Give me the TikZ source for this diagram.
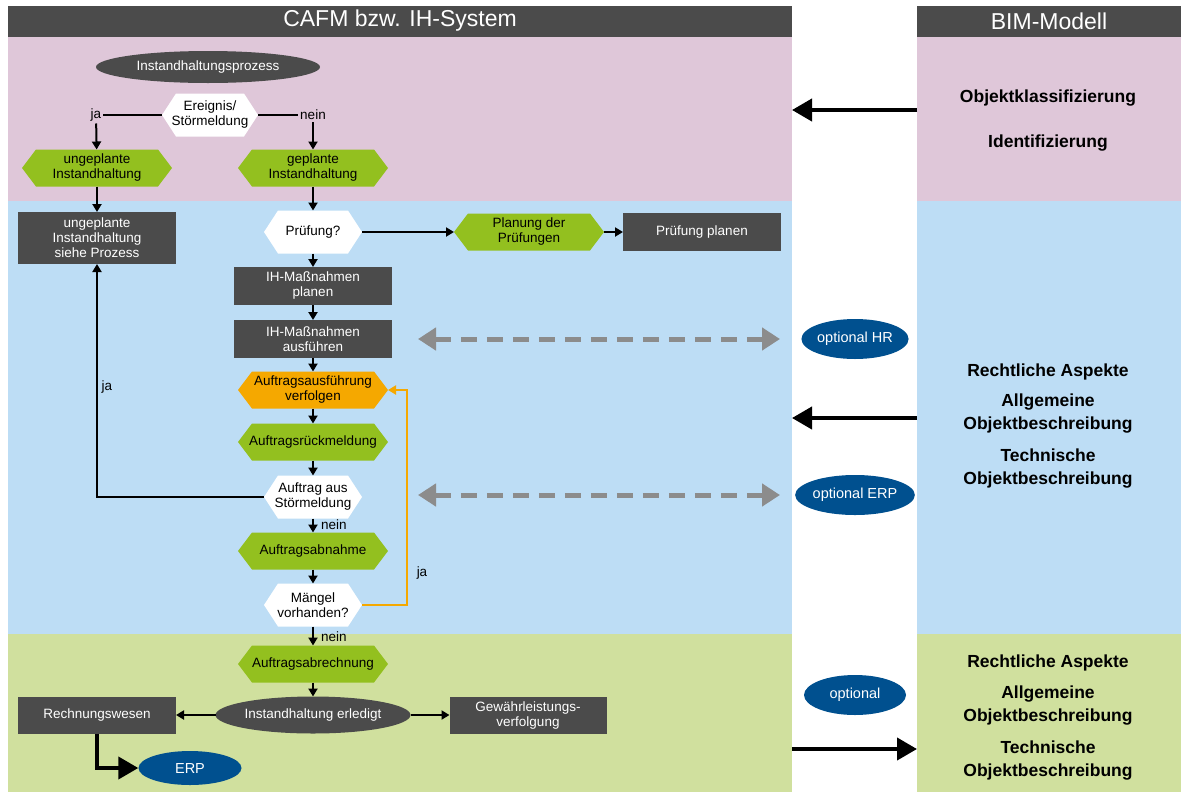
\documentclass[tikz,border=0pt]{standalone}
\usepackage{fontspec}
\setmainfont{Liberation Sans}
\usetikzlibrary{shapes.geometric}
\usetikzlibrary{positioning}
\usetikzlibrary{arrows.meta}
\definecolor{dgray}{HTML}{4B4B4B}
\definecolor{pinkbg}{HTML}{DFC7D9}
\definecolor{bluebg}{HTML}{BDDDF5}
\definecolor{greenbg}{HTML}{D0E09E}
\definecolor{limeg}{HTML}{93C01F}
\definecolor{orangeh}{HTML}{F5A800}
\definecolor{navyb}{HTML}{00508F}
\definecolor{grayarr}{HTML}{8C8C8C}

% hexagon with pointed ends, rectangle anchors
\makeatletter
\newdimen\hextipdim \newdimen\hxa \newdimen\hxb \newdimen\hya \newdimen\hyb
\newdimen\hym \newdimen\hxi \newdimen\hxo
\pgfkeys{/pgf/hex tip/.initial=14pt}
\pgfdeclareshape{hexnode}{
  \inheritsavedanchors[from=rectangle]
  \inheritanchorborder[from=rectangle]
  \inheritanchor[from=rectangle]{center}
  \inheritanchor[from=rectangle]{north}
  \inheritanchor[from=rectangle]{south}
  \inheritanchor[from=rectangle]{east}
  \inheritanchor[from=rectangle]{west}
  \backgroundpath{
    \pgfmathsetlength\hextipdim{\pgfkeysvalueof{/pgf/hex tip}}
    \southwest \hxa=\pgf@x \hya=\pgf@y
    \northeast \hxb=\pgf@x \hyb=\pgf@y
    \hym=.5\hya \advance\hym by .5\hyb
    \hxi=\hxa \advance\hxi by \hextipdim
    \hxo=\hxb \advance\hxo by -\hextipdim
    \pgfpathmoveto{\pgfqpoint{\hxa}{\hym}}
    \pgfpathlineto{\pgfqpoint{\hxi}{\hyb}}
    \pgfpathlineto{\pgfqpoint{\hxo}{\hyb}}
    \pgfpathlineto{\pgfqpoint{\hxb}{\hym}}
    \pgfpathlineto{\pgfqpoint{\hxo}{\hya}}
    \pgfpathlineto{\pgfqpoint{\hxi}{\hya}}
    \pgfpathclose
  }
}
\makeatother

\tikzset{
    hexg/.style = {hexnode, fill=limeg, minimum width=150pt, minimum height=37pt, inner sep=0pt, outer sep=0pt, align=center, font=\fontsize{13.5}{15}\selectfont, text=black},
    hexo/.style = {hexg, fill=orangeh},
    hexw/.style = {hexg, fill=white, minimum width=98pt, minimum height=43pt},
    boxd/.style = {rectangle, fill=dgray, minimum width=158pt, minimum height=38pt, inner sep=0pt, outer sep=0pt, align=center, font=\fontsize{13.5}{15}\selectfont, text=white},
    elld/.style = {ellipse, fill=dgray, inner sep=0pt, outer sep=0pt, align=center, font=\fontsize{13.5}{15}\selectfont, text=white},
    elln/.style = {ellipse, fill=navyb, minimum width=102pt, minimum height=40pt, inner sep=0pt, font=\fontsize{14.5}{16}\selectfont, text=white},
    lbl/.style = {inner sep=2pt, font=\fontsize{13.5}{15}\selectfont, text=black},
    headr/.style = {font=\fontsize{23}{26}\selectfont, text=white},
    bimtxt/.style = {align=center, font=\fontsize{17.5}{23}\selectfont\bfseries, text=black},
    edgen/.style = {-{Triangle[length=8pt,width=9pt]},line width=2pt,black},
    edgel/.style = {-,line width=2pt,black},
    edgeo/.style = {-{Triangle[length=8pt,width=9pt]},line width=2pt,orangeh}, % loop back
    edgegd/.style = {{Triangle[length=18pt,width=22pt]}-{Triangle[length=18pt,width=22pt]},line width=5pt,grayarr,dash pattern=on 16pt off 10pt},
    edgebig/.style = {-{Triangle[length=20pt,width=22pt]},line width=4pt,black}
}

\begin{document}
\begin{tikzpicture}[x=1pt,y=-1pt]
    \useasboundingbox (0,0) rectangle (1186,793);

    % bands
    \fill[dgray] (8,6) rectangle (792,37);
    \fill[dgray] (917,6) rectangle (1181,37);
    \fill[pinkbg] (8,37) rectangle (792,201);
    \fill[pinkbg] (917,37) rectangle (1181,201);
    \fill[bluebg] (8,201) rectangle (792,634);
    \fill[bluebg] (917,201) rectangle (1181,634);
    \fill[greenbg] (8,634) rectangle (792,792);
    \fill[greenbg] (917,634) rectangle (1181,792);
    \node[headr] (cafm) at (400,21) {CAFM bzw. IH-System};
    \node[headr] (bim) at (1049,21) {BIM-Modell};

    % flow
    \node[elld, minimum width=224pt, minimum height=32pt] (start) at (208,67) {Instandhaltungsprozess};
    \node[hexw, minimum width=96pt] (ereignis) at (210,115) {Ereignis/\\Störmeldung};
    \node[lbl] (ja1) at (96,115) {ja};
    \node[lbl] (nein1) at (313,115) {nein};
    \node[hexg] (ungepl) at (97,168) {ungeplante\\Instandhaltung};
    \node[hexg] (gepl) at (313,168) {geplante\\Instandhaltung};
    \node[boxd, minimum height=52pt] (siehe) at (97,238) {ungeplante\\Instandhaltung\\siehe Prozess};
    \node[hexw] (pruef) at (313,232) {Prüfung?};
    \node[hexg] (planpr) at (529,232) {Planung der\\Prüfungen};
    \node[boxd] (prplan) at (702,232) {Prüfung planen};
    \node[boxd] (ihplan) at (313,286) {IH-Maßnahmen\\planen};
    \node[boxd] (ihaus) at (313,339) {IH-Maßnahmen\\ausführen};
    \node[hexo] (verfolg) at (313,390) {Auftragsausführung\\verfolgen};
    \node[hexg] (rueck) at (313,442) {Auftragsrückmeldung};
    \node[hexw] (stoer) at (313,497) {Auftrag aus\\Störmeldung};
    \node[hexg] (abnahme) at (313,551) {Auftragsabnahme};
    \node[hexw] (maengel) at (313,605) {Mängel\\vorhanden?};
    \node[hexg] (abrech) at (313,664) {Auftragsabrechnung};
    \node[elld, minimum width=195pt, minimum height=37pt] (erledigt) at (313,715) {Instandhaltung erledigt};
    \node[boxd, minimum height=37pt] (rechnung) at (97,715) {Rechnungswesen};
    \node[boxd, minimum width=157pt, minimum height=37pt] (gewaehr) at (528,715) {Gewährleistungs-\\verfolgung};
    \node[elln, minimum width=103pt, minimum height=34pt] (erp) at (190,768) {ERP};

    \node[lbl, anchor=west] (nein2) at (319,525) {nein};
    \node[lbl, anchor=west] (nein3) at (319,637) {nein};
    \node[lbl] (ja2) at (107,387) {ja};
    \node[lbl] (ja3) at (422,573) {ja};

    \draw[edgel] (ereignis.west) -- (ja1.east);
    \draw[edgel] (ereignis.east) -- (nein1.west);
    \draw[edgen] (ja1) -- (ungepl);
    \draw[edgen] (nein1) -- (gepl);
    \draw[edgen] (ungepl) -- (siehe);
    \draw[edgen] (gepl) -- (pruef);
    \draw[edgen] (pruef) -- (planpr);
    \draw[edgen] (planpr) -- (prplan);
    \foreach \a/\b in {pruef/ihplan, ihplan/ihaus, ihaus/verfolg, verfolg/rueck, rueck/stoer, stoer/abnahme, abnahme/maengel, maengel/abrech, abrech/erledigt}
        \draw[edgen] (\a) -- (\b);
    \draw[edgen] (stoer.west) -| (siehe.south);
    \draw[edgeo] (maengel.east) -- ++(45,0) |- (verfolg.east);
    \draw[edgen] (erledigt.west) -- (rechnung.east);
    \draw[edgen] (erledigt.east) -- (gewaehr.west);
    \draw[edgebig] (rechnung.south) |- (erp.west);

    % optional systems
    \node[elln] (ohr) at (855,339) {optional HR};
    \node[elln] (oerp) at (855,495) {optional ERP};
    \node[elln] (oopt) at (855,695) {optional};
    \coordinate (hrL) at (418,339);
    \coordinate (hrR) at (780,339);
    \coordinate (erpL) at (418,495);
    \coordinate (erpR) at (780,495);
    \draw[edgegd] (hrL) -- (hrR);
    \draw[edgegd] (erpL) -- (erpR);

    % BIM side
    \node[bimtxt] (klass) at (1048,98) {Objektklassifizierung};
    \node[bimtxt] (ident) at (1048,143) {Identifizierung};
    \node[bimtxt] (recht1) at (1048,372) {Rechtliche Aspekte};
    \node[bimtxt] (allg1) at (1048,414) {Allgemeine\\Objektbeschreibung};
    \node[bimtxt] (tech1) at (1048,469) {Technische\\Objektbeschreibung};
    \node[bimtxt] (recht2) at (1048,663) {Rechtliche Aspekte};
    \node[bimtxt] (allg2) at (1048,706) {Allgemeine\\Objektbeschreibung};
    \node[bimtxt] (tech2) at (1048,761) {Technische\\Objektbeschreibung};
    \coordinate (pinkR) at (917,110);
    \coordinate (pinkL) at (792,110);
    \coordinate (blueR) at (917,418);
    \coordinate (blueL) at (792,418);
    \coordinate (greenL) at (792,749);
    \coordinate (greenR) at (917,749);
    \draw[edgebig] (pinkR) -- (pinkL);
    \draw[edgebig] (blueR) -- (blueL);
    \draw[edgebig] (greenL) -- (greenR);
\end{tikzpicture}
\end{document}
